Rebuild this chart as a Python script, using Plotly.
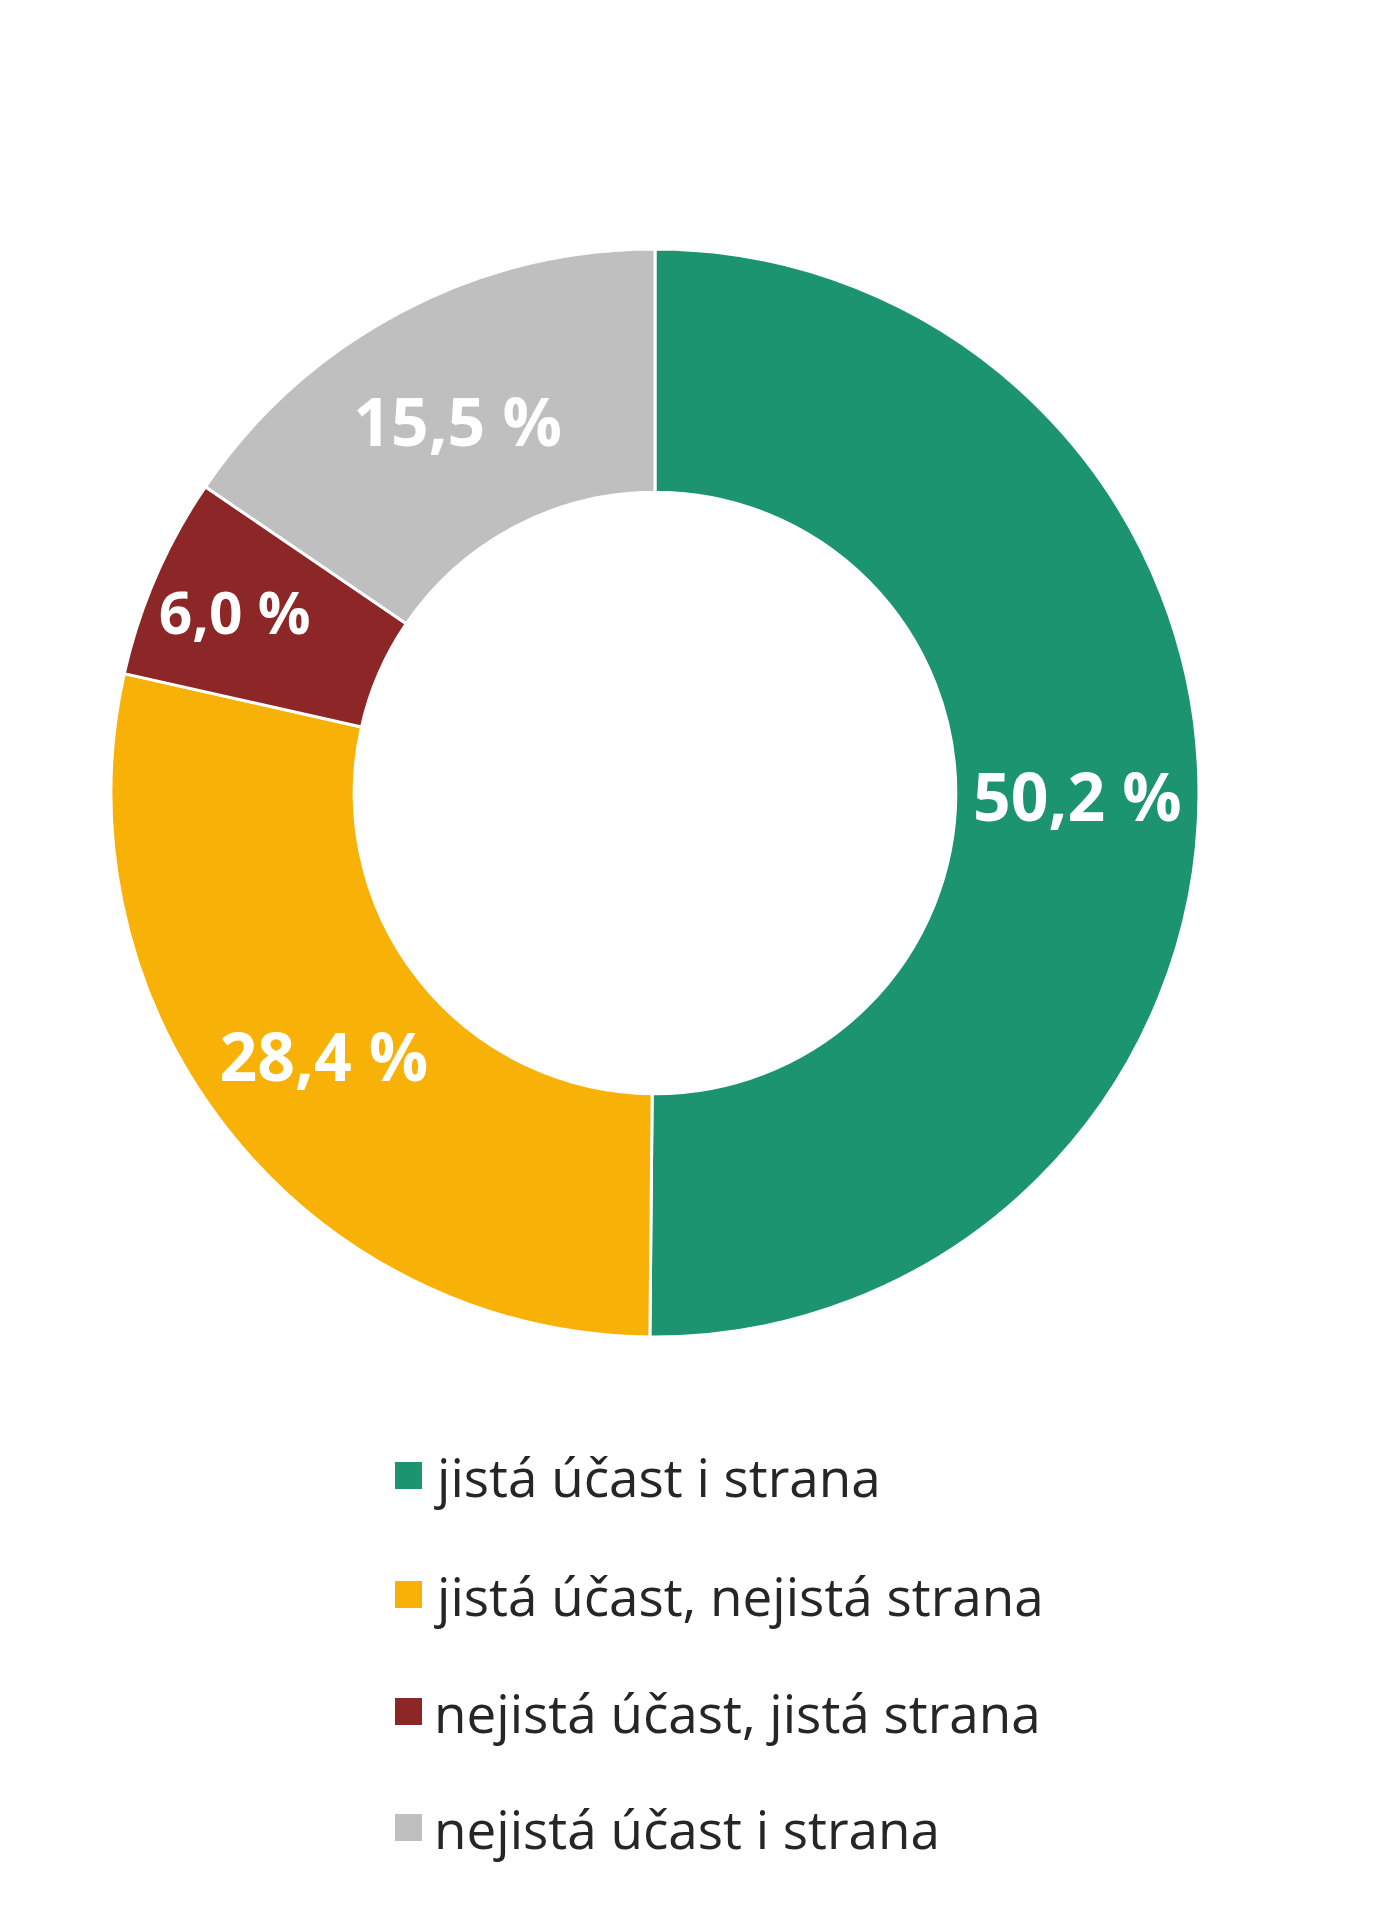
import plotly.graph_objects as go

categories = ["jistá účast i strana", "jistá účast, nejistá strana",
              "nejistá účast, jistá strana", "nejistá účast i strana"]
values = [50.2, 28.4, 6.0, 15.5]
colors = ["#1c9470", "#f8b207", "#8d2626", "#bfbfbf"]

W, H = 1394, 1920
labels_txt = [f"{v:.1f}".replace(".", ",") + " %" for v in values]

fig = go.Figure(go.Pie(
    labels=categories, values=values, text=labels_txt, textinfo="text",
    sort=False, direction="clockwise", rotation=0, hole=0.553,
    marker=dict(colors=colors, line=dict(color="white", width=3)),
    textposition="inside", insidetextorientation="horizontal",
    textfont=dict(family="Open Sans", size=66, color="white", weight="bold"),
    domain=dict(x=[103/W, 1191/W], y=[1-1329/H, 1-241/H]),
    showlegend=False, hoverinfo="label+percent"))

rows = [1468, 1587, 1704, 1820]
for cat, col, y in zip(categories, colors, rows):
    fig.add_shape(type="rect", xref="paper", yref="paper",
                  x0=387/W, x1=414/W, y0=1-(y+13)/H, y1=1-(y-14)/H,
                  fillcolor=col, line=dict(width=0))
    fig.add_annotation(x=424/W, y=1-y/H, xref="paper", yref="paper",
                       text=cat, showarrow=False, xanchor="left", yanchor="middle",
                       font=dict(family="Open Sans", size=53, color="#262626"))

fig.update_layout(width=W, height=H, margin=dict(l=0, r=0, t=0, b=0),
                  paper_bgcolor="white", plot_bgcolor="white")
fig.write_html("out.html")
